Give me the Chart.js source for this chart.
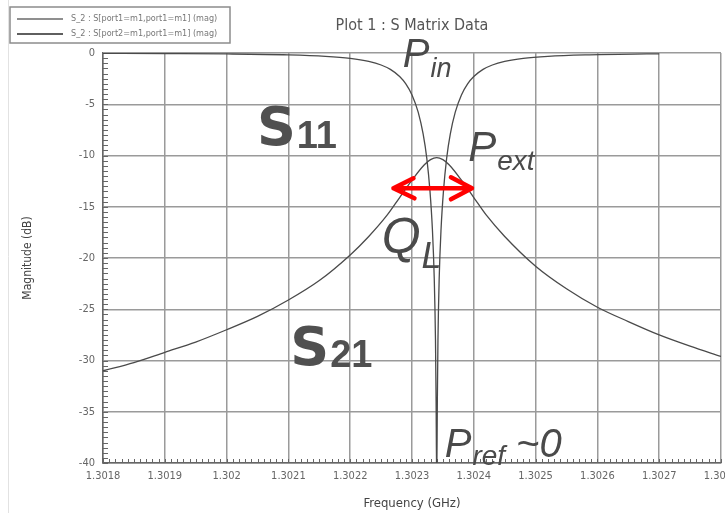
<!DOCTYPE html>
<html>
<head>
<meta charset="utf-8">
<title>Plot 1 : S Matrix Data</title>
<script src="https://cdn.jsdelivr.net/npm/chart.js@4.4.1/dist/chart.umd.min.js"></script>
<style>
  html, body { margin: 0; padding: 0; background: #fff; overflow: hidden; }
  #wrap { width: 725px; height: 513px; overflow: hidden; }
</style>
</head>
<body>
<div id="wrap"><canvas id="sMatrixChart" width="760" height="513"></canvas></div>
<script>
// Series labels as shown in the legend box
const seriesLabels = [
    'S_2 : S[port1=m1,port1=m1] (mag)',
    'S_2 : S[port2=m1,port1=m1] (mag)'
];

// S11 (reflection) - frequency in GHz, magnitude in dB
const s11Freq = [
    1.3018, 1.3019, 1.302, 1.3021, 1.30216, 1.3022, 1.30223, 1.30225, 1.302265,
    1.30228, 1.30229, 1.3023, 1.30231, 1.302318, 1.302324, 1.302329, 1.302333,
    1.302336, 1.302338, 1.302339, 1.30234, 1.302341, 1.302342, 1.302344,
    1.302347, 1.302351, 1.302356, 1.302362, 1.30237, 1.30238, 1.30239, 1.3024,
    1.302415, 1.30243, 1.30245, 1.30248, 1.30252, 1.30258, 1.30268, 1.3027
];
const s11Mag = [
    -0.04, -0.06, -0.09, -0.18, -0.32, -0.52, -0.82, -1.17, -1.6,
    -2.29, -3.01, -4.09, -5.77, -7.9, -10.3, -13.4, -17.2,
    -22.0, -28.0, -34.0, -42.0, -34.0, -28.0, -22.0,
    -17.2, -13.4, -10.3, -7.9, -5.77, -4.09, -3.01, -2.29,
    -1.6, -1.17, -0.82, -0.52, -0.32, -0.18, -0.09, -0.08
];

// S21 (transmission) - frequency in GHz, magnitude in dB
const s21Freq = [
    1.3018, 1.30185, 1.3019, 1.30195, 1.302, 1.30205, 1.3021, 1.30215, 1.3022,
    1.30223, 1.30226, 1.30228, 1.3023, 1.30232, 1.30233, 1.30234, 1.30235,
    1.30236, 1.30238, 1.3024, 1.30242, 1.30245, 1.3025, 1.30255, 1.3026,
    1.30265, 1.3027, 1.30275, 1.3028
];
const s21Mag = [
    -31.0, -30.2, -29.2, -28.2, -27.0, -25.7, -24.1, -22.2, -19.7,
    -17.9, -15.8, -14.1, -12.4, -10.9, -10.4, -10.2, -10.4,
    -10.9, -12.4, -14.1, -15.8, -17.9, -20.8, -23.0, -24.8,
    -26.2, -27.5, -28.6, -29.6
];

// Axis range and ticks
const freqMin = 1.3018;
const freqMax = 1.3028;
const freqStep = 0.0001;
const freqMinorStep = 0.00001;
const magMin = -40;
const magMax = 0;
const magStep = 5;
const magMinorStep = 0.5;

const axisFont = "'DejaVu Sans Condensed', 'Liberation Sans Narrow', 'DejaVu Sans', sans-serif";
const curveColor = '#4a4a4a';

function toPoints(xs, ys) {
    return xs.map((x, i) => ({ x: x, y: ys[i] }));
}

// little inside ticks along the left and bottom axes
const minorTicks = {
    id: 'minorTicks',
    beforeDatasetsDraw(chart) {
        const { ctx, chartArea, scales } = chart;
        ctx.save();
        ctx.strokeStyle = '#666';
        ctx.lineWidth = 1;
        ctx.beginPath();
        const nx = Math.round((freqMax - freqMin) / freqMinorStep);
        for (let i = 0; i <= nx; i++) {
            const px = Math.round(scales.x.getPixelForValue(freqMin + i * freqMinorStep)) + 0.5;
            ctx.moveTo(px, chartArea.bottom);
            ctx.lineTo(px, chartArea.bottom - 4);
        }
        const ny = Math.round((magMax - magMin) / magMinorStep);
        for (let j = 0; j <= ny; j++) {
            const py = Math.round(scales.y.getPixelForValue(magMin + j * magMinorStep)) + 0.5;
            ctx.moveTo(chartArea.left, py);
            ctx.lineTo(chartArea.left + 5, py);
        }
        ctx.stroke();
        ctx.restore();
    }
};

// boxed legend in the top left corner
const boxLegend = {
    id: 'boxLegend',
    afterDraw(chart) {
        const ctx = chart.ctx;
        ctx.save();
        // faint page edge on the left
        ctx.strokeStyle = '#e2e2e2';
        ctx.lineWidth = 1;
        ctx.beginPath();
        ctx.moveTo(8.5, 0);
        ctx.lineTo(8.5, 513);
        ctx.stroke();

        ctx.fillStyle = '#fff';
        ctx.fillRect(10, 7, 220, 36);
        ctx.strokeStyle = '#8c8c8c';
        ctx.lineWidth = 1.5;
        ctx.strokeRect(10, 7, 220, 36);
        const lineColors = ['#6a6a6a', '#2a2a2a'];
        chart.data.datasets.forEach((ds, i) => {
            const y = 19 + i * 15;
            ctx.strokeStyle = lineColors[i];
            ctx.lineWidth = 1.3;
            ctx.beginPath();
            ctx.moveTo(17, y);
            ctx.lineTo(63, y);
            ctx.stroke();
            ctx.fillStyle = '#777';
            ctx.font = "9px " + axisFont;
            ctx.textBaseline = 'middle';
            ctx.fillText(ds.label, 71, y);
        });
        ctx.restore();
    }
};

// hand-written style notes drawn over the plot (P_in, S11, Q_L ...)
const notes = {
    id: 'notes',
    afterDraw(chart) {
        const { ctx, scales } = chart;
        const X = v => scales.x.getPixelForValue(v);
        const Y = v => scales.y.getPixelForValue(v);
        ctx.save();
        ctx.textBaseline = 'alphabetic';

        function label(f, db, main, mainFont, sub, subFont, drop, color, tail) {
            const x = X(f), y = Y(db);
            ctx.fillStyle = color;
            ctx.font = mainFont;
            ctx.fillText(main, x, y);
            const w = ctx.measureText(main).width;
            ctx.font = subFont;
            ctx.fillText(sub, x + w + 1, y + drop);
            if (tail) {
                const ws = ctx.measureText(sub).width;
                ctx.font = mainFont;
                ctx.fillText(tail, x + w + ws + 12, y);
            }
        }

        const pFont = "italic 40px 'Liberation Sans', Arial, sans-serif";
        const pSub = "italic 27px 'Liberation Sans', Arial, sans-serif";
        const sFont = "bold 54px 'DejaVu Sans', sans-serif";
        const sSub = "bold 38px 'Liberation Sans', Arial, sans-serif";

        label(1.302285, -1.37, 'P', pFont, 'in', pSub, 10, '#4a4a4a');
        label(1.302391, -10.54, 'P', "italic 42px 'Liberation Sans', Arial, sans-serif", 'ext', "italic 28px 'Liberation Sans', Arial, sans-serif", 9, '#4a4a4a');
        label(1.302251, -19.5, 'Q', "italic 50px 'Liberation Sans', Arial, sans-serif", 'L', "italic 36px 'Liberation Sans', Arial, sans-serif", 15, '#4a4a4a');
        label(1.302353, -39.4, 'P', pFont, 'ref', "italic 28px 'Liberation Sans', Arial, sans-serif", 8, '#4a4a4a', '~0');
        label(1.302049, -8.98, 'S', sFont, '11', sSub, 3, '#505050');
        label(1.302103, -30.4, 'S', sFont, '21', sSub, 2, '#505050');

        // red double arrow marking the loaded Q width
        const x1 = X(1.302270), x2 = X(1.302397), ya = Y(-13.2);
        ctx.strokeStyle = '#ff0000';
        ctx.lineWidth = 4.5;
        ctx.lineCap = 'round';
        ctx.lineJoin = 'round';
        ctx.beginPath();
        ctx.moveTo(x1, ya);
        ctx.lineTo(x2, ya);
        ctx.moveTo(x1 + 20, ya - 10);
        ctx.lineTo(x1, ya);
        ctx.lineTo(x1 + 21, ya + 10);
        ctx.moveTo(x2 - 21, ya - 11);
        ctx.lineTo(x2, ya);
        ctx.lineTo(x2 - 21, ya + 11);
        ctx.stroke();
        ctx.restore();
    }
};

const ctx = document.getElementById('sMatrixChart').getContext('2d');
const sChart = new Chart(ctx, {
    type: 'line',
    data: {
        datasets: [
            {
                label: seriesLabels[0],
                data: toPoints(s11Freq, s11Mag),
                borderColor: curveColor,
                borderWidth: 1.3,
                pointRadius: 0,
                fill: false,
                cubicInterpolationMode: 'monotone'
            },
            {
                label: seriesLabels[1],
                data: toPoints(s21Freq, s21Mag),
                borderColor: curveColor,
                borderWidth: 1.3,
                pointRadius: 0,
                fill: false,
                cubicInterpolationMode: 'monotone'
            }
        ]
    },
    options: {
        responsive: false,
        animation: false,
        layout: {
            padding: { left: 17, right: 39, top: 0, bottom: 0 }
        },
        plugins: {
            legend: { display: false },
            tooltip: { enabled: false },
            title: {
                display: true,
                fullSize: false,
                text: 'Plot 1 : S Matrix Data',
                color: '#555',
                font: { family: axisFont, size: 16, weight: 'normal' },
                padding: { top: 16, bottom: 17.8 }
            }
        },
        scales: {
            x: {
                type: 'linear',
                min: freqMin,
                max: freqMax,
                afterFit: s => { s.height = 50; },
                ticks: {
                    stepSize: freqStep,
                    autoSkip: false,
                    maxRotation: 0,
                    padding: 7,
                    color: '#666',
                    font: { family: axisFont, size: 11 },
                    callback: v => parseFloat(Number(v).toFixed(4)).toString()
                },
                grid: { color: '#9a9a9a', lineWidth: 1.5, drawTicks: false },
                border: { color: '#666', width: 1.5 },
                title: {
                    display: true,
                    text: 'Frequency (GHz)',
                    color: '#444',
                    font: { family: axisFont, size: 13 },
                    padding: { top: 0, bottom: 2 }
                }
            },
            y: {
                min: magMin,
                max: magMax,
                afterFit: s => { s.width = 86; },
                ticks: {
                    stepSize: magStep,
                    padding: 8,
                    color: '#666',
                    font: { family: axisFont, size: 11 }
                },
                grid: { color: '#9a9a9a', lineWidth: 1.5, drawTicks: false },
                border: { color: '#666', width: 1.5 },
                title: {
                    display: true,
                    text: 'Magnitude (dB)',
                    color: '#444',
                    font: { family: axisFont, size: 12 },
                    padding: { top: 4, bottom: 4 }
                }
            }
        }
    },
    plugins: [minorTicks, notes, boxLegend]
});
</script>
</body>
</html>
